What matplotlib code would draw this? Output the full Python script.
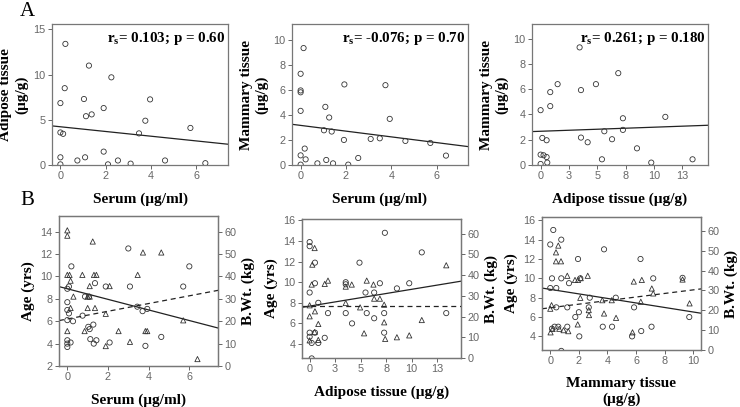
import numpy as np
import matplotlib
matplotlib.use("Agg")
import matplotlib.pyplot as plt

plt.rcParams['font.family'] = ['Liberation Sans', 'DejaVu Sans']
plt.rcParams['mathtext.fontset'] = 'custom'
plt.rcParams['mathtext.rm'] = 'Liberation Serif:bold'

# ---- panel A data ----
a1_x = [0.22, 1.26, 2.25, 0.19, 1.04, 0.0, 1.91, 3.96, 1.13, 1.38, 3.75, 5.74, 0.0, 0.12,
        3.47, 0.0, 1.09, 1.91, 0.75, 2.54, 4.62, 0.0, 2.1, 3.1, 6.4]
a1_y = [13.4, 11.0, 9.7, 8.5, 7.3, 6.85, 6.3, 7.26, 5.4, 5.6, 4.9, 4.1, 3.6, 3.45,
        3.5, 0.85, 0.85, 1.48, 0.5, 0.5, 0.5, 0.07, 0.07, 0.15, 0.2]
a1_fit = (4.23, -0.261)

a2_x = [0.13, 0.0, 0.0, 0.0, 0.0, 1.93, 3.74, 1.09, 1.26, 3.93, 1.03, 1.37, 1.91, 3.09,
        3.49, 4.62, 5.72, 6.41, 0.18, 0.0, 0.22, 1.13, 2.54, 0.74, 1.43, 2.1, 0.0]
a2_y = [9.33, 7.28, 5.95, 5.8, 4.32, 6.43, 6.37, 4.64, 3.79, 3.68, 2.77, 2.67, 2.0, 2.08,
        2.13, 1.92, 1.76, 0.75, 1.31, 0.77, 0.45, 0.4, 0.56, 0.13, 0.13, 0.03, 0.03]
a2_fit = (3.16, -0.229)

a3_x = [3.44, 6.85, 1.5, 4.88, 0.85, 3.56, 0.85, 0.0, 7.26, 11.0, 7.26, 5.62, 0.15, 0.53,
        3.56, 4.15, 6.3, 8.5, 0.0, 0.26, 0.53, 5.41, 13.4, 0.59, 9.76, 0.0]
a3_y = [9.31, 7.27, 6.4, 6.4, 5.77, 5.93, 4.66, 4.34, 3.7, 3.81, 2.78, 2.67, 2.14, 1.96,
        2.17, 1.8, 2.04, 1.32, 0.82, 0.77, 0.63, 0.45, 0.45, 0.19, 0.19, 0.08]
a3_fit = (2.67, 0.0322)

# ---- panel B data: circles = age, triangles = body weight ----
b1_age_x = [3.0, 0.2, 6.0, 1.36, 0.08, 0.0, 1.89, 3.08, 0.87, 1.07, 5.7, 0.0, 0.0, 0.08, 0.75,
            3.44, 3.7, 3.93, 0.0, 0.28, 1.03, 1.1, 1.28, 0.0, 0.16, 1.13, 1.3, 1.43, 2.08,
            0.0, 0.0, 3.84, 4.62]
b1_age_y = [12.5, 10.9, 10.9, 9.4, 9.1, 8.9, 9.1, 9.1, 8.2, 8.2, 9.1, 7.7, 7.0, 6.7, 6.5,
            7.3, 6.9, 7.1, 6.1, 6.0, 5.5, 5.3, 5.7, 4.3, 4.1, 4.4, 4.0, 4.3, 4.1, 4.0, 3.7,
            3.8, 4.6]
b1_wt_x = [0.0, 0.0, 1.25, 3.72, 4.62, 0.0, 0.11, 0.74, 1.31, 1.43, 3.46, 0.16, 1.1, 2.08,
           0.3, 1.0, 1.1, 1.0, 1.36, 0.16, 1.89, 0.85, 0.0, 2.52, 3.84, 3.93, 1.89, 3.08,
           5.7, 6.4]
b1_wt_y = [60.6, 58.2, 55.6, 50.7, 50.7, 40.7, 40.7, 40.7, 40.7, 40.7, 40.7, 38.1, 35.7,
           35.7, 31, 31, 31, 25.9, 25.9, 25.9, 23.3, 15.6, 15.6, 15.6, 15.6, 15.6, 8.9,
           10.8, 20.4, 3.1]
b1_age_fit = (8.9, -0.473)
b1_wt_fit = (21.0, 1.726)

b2_age_x = [7.38, 0.0, 0.0, 11.0, 0.52, 4.89, 0.52, 3.54, 3.54, 6.89, 9.77, 0.0, 5.48, 6.33,
            8.56, 0.85, 1.8, 3.54, 5.6, 7.31, 13.4, 4.16, 6.33, 7.31, 0.0, 0.0, 0.52, 1.48,
            0.2, 0.85, 0.2]
b2_age_y = [14.8, 13.9, 13.5, 12.9, 11.9, 11.9, 9.9, 10.0, 9.8, 9.9, 9.9, 9.0, 9.0, 9.0,
            9.4, 8.0, 7.0, 7.0, 7.0, 7.0, 7.0, 6.0, 6.5, 5.1, 5.1, 4.7, 5.1, 4.6, 4.1, 4.1,
            2.6]
b2_wt_x = [0.49, 0.26, 13.4, 1.8, 1.48, 0.2, 4.13, 5.6, 6.26, 3.54, 6.33, 6.89, 3.54, 4.95,
           7.31, 0.0, 0.0, 0.52, 0.85, 7.31, 11.0, 0.49, 5.34, 7.41, 8.56, 9.77, 0.0, 0.85]
b2_wt_y = [53, 45, 44.7, 37.3, 35.7, 35.4, 35.4, 37.3, 35.4, 34.4, 28.6, 28.6, 26.5, 24.4,
           25.7, 25.4, 20.1, 22.5, 16.4, 17.2, 18.3, 12.5, 11.9, 9.2, 10.0, 10.9, 8.5, 8.7]
b2_age_fit = (7.68, 0.163)
b2_wt_fit = (25.0, 0.0)

b3_age_x = [0.21, 0.77, 0.0, 3.76, 1.94, 6.31, 0.12, 0.77, 2.1, 7.2, 9.25, 1.31, 0.0, 0.42,
            4.58, 2.76, 0.42, 1.19, 2.69, 5.86, 2.0, 1.75, 9.72, 1.19, 3.67, 4.32, 7.08,
            0.3, 0.56, 6.36, 2.03, 5.72, 0.12, 0.77]
b3_age_y = [15.0, 14.0, 13.5, 13.0, 12.0, 12.0, 10.0, 10.0, 10.0, 10.0, 10.05, 9.5, 9.0,
            9.0, 8.0, 8.0, 7.0, 7.0, 7.0, 7.0, 6.5, 6.0, 6.0, 5.0, 5.0, 5.0, 5.0, 5.0, 5.0,
            4.55, 4.0, 4.0, 4.8, 2.5]
b3_wt_x = [0.56, 0.4, 0.75, 0.4, 1.19, 2.62, 1.73, 1.94, 2.13, 5.84, 6.4, 9.25, 7.1, 7.2,
           2.1, 3.64, 4.3, 6.33, 0.09, 0.0, 9.74, 2.69, 2.71, 3.76, 4.6, 1.92, 0.16, 0.63,
           0.93, 0.02, 1.26, 5.75]
b3_wt_y = [52.6, 49.2, 44.7, 44.7, 37.4, 37.4, 35.3, 35.3, 36.2, 34.5, 35.3, 35.5, 31,
           28.5, 26.3, 25.1, 25.1, 24.3, 22.6, 20.8, 23.5, 20.1, 17.6, 18.4, 16.2, 12.9,
           10.6, 10.7, 10.0, 8.9, 9.5, 8.9]
b3_age_fit = (8.86, -0.234)
b3_wt_fit = (21.3, 0.9)

serif = 'Liberation Serif'
tick_col = '#666666'
frame_col = '#777777'
mk = dict(s=14, facecolors='none', edgecolors='#333333', linewidths=0.6, zorder=3)

fig = plt.figure(figsize=(7.4, 4.07), dpi=100)


def style(ax):
    for sp in ax.spines.values():
        sp.set_color(frame_col)
        sp.set_linewidth(0.9)
    ax.tick_params(labelsize=7.8, colors=tick_col, length=3, width=0.7, direction='out',
                   pad=1.5)


def fit_line(ax, fit, xlim, **kw):
    xs = np.array(xlim)
    ax.plot(xs, fit[0] + fit[1] * xs, color='#222222', lw=0.9, **kw)


def a_panel(rect, x, y, fit, xlim, ylim, yticks, xticks, xticklabels, xlabel, ylabel, note):
    ax = fig.add_axes(rect)
    ax.scatter(x, y, **mk)
    fit_line(ax, fit, xlim)
    ax.set_xlim(xlim)
    ax.set_ylim(ylim)
    ax.set_xticks(xticks)
    ax.set_xticklabels(xticklabels)
    ax.set_yticks(yticks)
    style(ax)
    ax.set_xlabel(xlabel, family=serif, fontweight='bold', fontsize=11, labelpad=8)
    ax.set_ylabel(ylabel, family=serif, fontweight='bold', fontsize=11, labelpad=4)
    ax.text(0.985, 0.9, note, transform=ax.transAxes, ha='right', va='center',
            family=serif, fontweight='bold', fontsize=10.8)
    return ax


def b_panel(rect, ax_x, ax_y, wt_x, wt_y, age_fit, wt_fit, xlim, ylim, xticks, xticklabels,
            yticks, xlabel):
    ax = fig.add_axes(rect)
    ax.scatter(ax_x, ax_y, marker='o', **mk)
    fit_line(ax, age_fit, xlim)
    ax.set_xlim(xlim)
    ax.set_ylim(ylim)
    ax.set_xticks(xticks)
    ax.set_xticklabels(xticklabels)
    ax.set_yticks(yticks)
    style(ax)
    ax.set_xlabel(xlabel, family=serif, fontweight='bold', fontsize=11, labelpad=8)
    ax.set_ylabel('Age (yrs)', family=serif, fontweight='bold', fontsize=11, labelpad=4)
    ax2 = ax.twinx()
    ax2.scatter(wt_x, wt_y, marker='^', **mk)
    fit_line(ax2, wt_fit, xlim, ls=(0, (4, 3)))
    ax2.set_ylim(0, 67)
    ax2.set_yticks(range(0, 61, 10))
    style(ax2)
    ax2.set_ylabel('B.Wt. (kg)', family=serif, fontweight='bold', fontsize=11, labelpad=4)
    return ax


a_panel([0.0703, 0.5946, 0.2378, 0.3464], a1_x, a1_y, a1_fit, (-0.37, 7.4), (0, 15.6),
        [0, 5, 10, 15], [0, 2, 4, 6], ['0', '2', '4', '6'], 'Serum (µg/ml)',
        'Adipose tissue\n(µg/g)', r'r$_{\mathregular{s}}$= 0.103; p = 0.60')
a_panel([0.3946, 0.5946, 0.2378, 0.3464], a2_x, a2_y, a2_fit, (-0.38, 7.38), (0, 11.25),
        [0, 2, 4, 6, 8, 10], [0, 2, 4, 6], ['0', '2', '4', '6'], 'Serum (µg/ml)',
        'Mammary tissue\n(µg/g)', r'r$_{\mathregular{s}}$= -0.076; p = 0.70')
a_panel([0.7189, 0.5946, 0.2378, 0.3464], a3_x, a3_y, a3_fit, (-0.76, 14.76), (0, 11.16),
        [0, 2, 4, 6, 8, 10], [0, 2.5, 5, 7.5, 10, 12.5], ['0', '3', '5', '8', '10', '13'],
        'Adipose tissue (µg/g)', 'Mammary tissue\n(µg/g)',
        r'r$_{\mathregular{s}}$= 0.261; p = 0.180')

b_panel([0.0797, 0.1007, 0.2149, 0.3686], b1_age_x, b1_age_y, b1_wt_x, b1_wt_y,
        b1_age_fit, b1_wt_fit, (-0.41, 7.41), (2, 15.4), [0, 2, 4, 6], ['0', '2', '4', '6'],
        range(2, 15, 2), 'Serum (µg/ml)')
b_panel([0.4081, 0.1204, 0.2149, 0.3415], b2_age_x, b2_age_y, b2_wt_x, b2_wt_y,
        b2_age_fit, b2_wt_fit, (-0.75, 14.85), (2.64, 16.14), [0, 2.5, 5, 7.5, 10, 12.5],
        ['0', '3', '5', '8', '10', '13'], range(4, 17, 2), 'Adipose tissue (µg/g)')
b_panel([0.7324, 0.1400, 0.2149, 0.3268], b3_age_x, b3_age_y, b3_wt_x, b3_wt_y,
        b3_age_fit, b3_wt_fit, (-0.58, 10.54), (2.59, 16.34), [0, 2, 4, 6, 8, 10],
        ['0', '2', '4', '6', '8', '10'], range(4, 17, 2), 'Mammary tissue\n(µg/g)')

fig.text(27 / 740, 1 - 12 / 407, 'A', family=serif, fontsize=15, ha='center', va='center')
fig.text(27 / 740, 1 - 200 / 407, 'B', family=serif, fontsize=15, ha='center', va='center')

fig.savefig('out.png', dpi=100)
